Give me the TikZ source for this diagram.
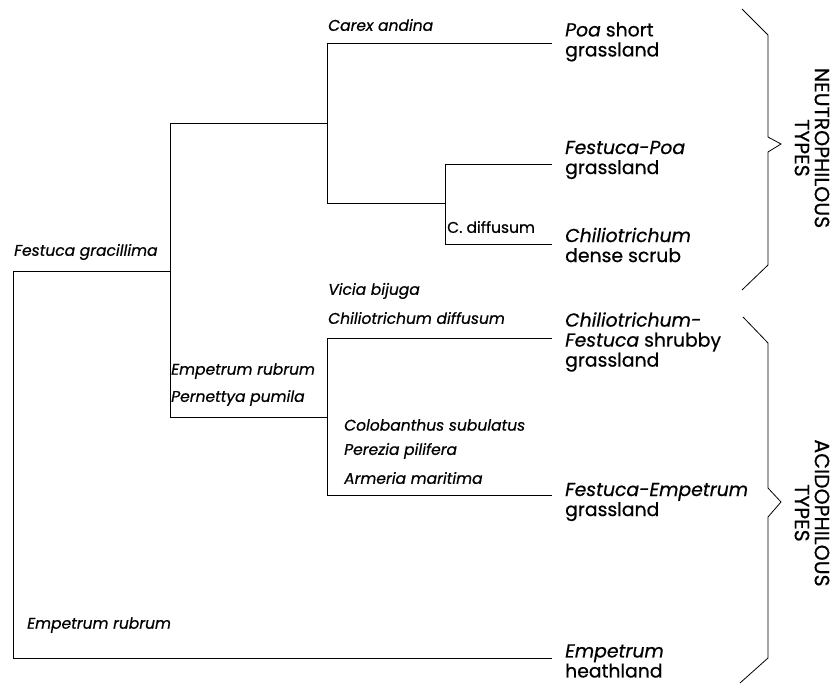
\documentclass[tikz,border=0pt]{standalone}
\usepackage{fontspec}
\setmainfont{Poppins}[FakeBold=0.6]
\usepackage{tikz}
\usetikzlibrary{positioning,calc}

\begin{document}
\begin{tikzpicture}[x=1pt, y=-1pt,
  link/.style={line width=0.8pt, black},
  taxon/.style={font=\fontsize{15.5}{17}\selectfont\itshape, anchor=west, inner sep=0pt},
  vegtype/.style={font=\fontsize{18.8}{20}\selectfont, anchor=west, align=left, inner sep=0pt},
  soilgroup/.style={font=\fontsize{20.5}{20}\selectfont, rotate=-90, align=center, inner sep=0pt}]
\useasboundingbox (0,0) rectangle (831,684);
% junctions of the dendrogram
\coordinate (r-top) at (13,271); \coordinate (r-bot) at (13,658);
\coordinate (a-top) at (170,123); \coordinate (a-bot) at (170,417);
\coordinate (b-top) at (327,43);  \coordinate (b-bot) at (327,203);
\coordinate (c-top) at (445,164); \coordinate (c-bot) at (445,244);
\coordinate (d-top) at (327,338); \coordinate (d-bot) at (327,495);
% free ends of the leaves
\coordinate (l1) at (552,43);  \coordinate (l2) at (552,164);
\coordinate (l3) at (552,244); \coordinate (l4) at (552,338);
\coordinate (l5) at (552,495); \coordinate (l6) at (552,658);
% branches
\draw[link] (r-top) -- (r-bot) -- (l6);
\draw[link] (r-top) -- (r-top -| a-top);
\draw[link] (a-top) -- (a-bot);
\draw[link] (a-top) -- (a-top -| b-top);
\draw[link] (a-bot) -- (a-bot -| d-top);
\draw[link] (b-top) -- (b-bot);
\draw[link] (b-top) -- (l1);
\draw[link] (b-bot) -- (b-bot -| c-top);
\draw[link] (c-top) -- (c-bot);
\draw[link] (c-top) -- (l2);
\draw[link] (c-bot) -- (l3);
\draw[link] (d-top) -- (d-bot);
\draw[link] (d-top) -- (l4);
\draw[link] (d-bot) -- (l5);
% indicator species
\node[taxon] (carex) at (328,25) {Carex andina};
\node[taxon] (gracil) at (14,252) {Festuca gracillima};
\node[taxon] (vicia) at (328,291) {Vicia bijuga};
\node[taxon] (chilio) at (328,318) {Chiliotrichum diffusum};
\node[taxon] (emp-mid) at (171,371) {Empetrum rubrum};
\node[taxon] (pernet) at (171,398) {Pernettya pumila};
\node[taxon] (colob) at (344,425) {Colobanthus subulatus};
\node[taxon] (perez) at (344,451) {Perezia pilifera};
\node[taxon] (armer) at (344,478) {Armeria maritima};
\node[taxon, font=\fontsize{15.5}{17}\selectfont] (cdiff) at (447,227) {C. diffusum};
\node[taxon] (emp-bot) at (27,625) {Empetrum rubrum};
% vegetation types
\node[vegtype] (poa) at (565,42) {\textit{Poa} short\\grassland};
\node[vegtype] (fpoa) at (565,160) {\textit{Festuca-Poa}\\grassland};
\node[vegtype] (scrub) at (565,245) {\textit{Chiliotrichum}\\dense scrub};
\node[vegtype] (shrubby) at (565,342) {\textit{Chiliotrichum-}\\\textit{Festuca} shrubby\\grassland};
\node[vegtype] (fempet) at (565,502) {\textit{Festuca-Empetrum}\\grassland};
\node[vegtype] (heath) at (565,661) {\textit{Empetrum}\\heathland};
% brackets
\draw[link] (742,9) -- (768,35) -- (768,137) -- (781,144) -- (768,152) -- (768,265) -- (742,290);
\draw[link] (743,317) -- (768,343) -- (768,488) -- (781,502) -- (768,517) -- (768,658) -- (740,683);
\node[soilgroup] (neutro) at (812,148) {NEUTROPHILOUS\\TYPES};
\node[soilgroup] (acido) at (812,513) {ACIDOPHILOUS\\TYPES};
\end{tikzpicture}
\end{document}
